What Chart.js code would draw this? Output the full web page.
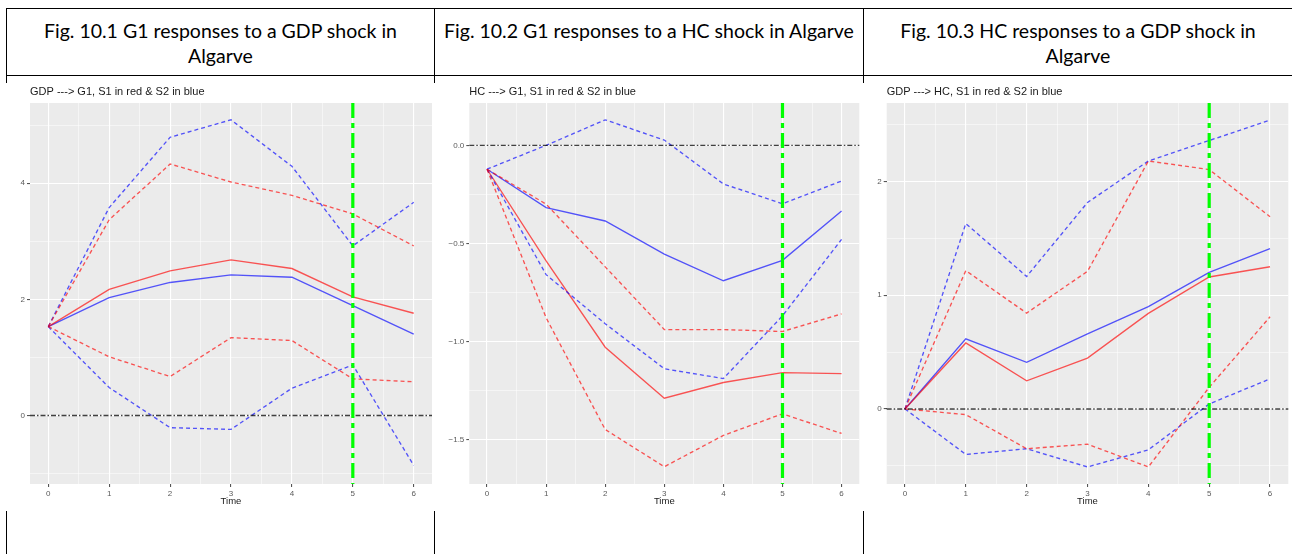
<!DOCTYPE html>
<html>
<head>
<meta charset="utf-8">
<script src="https://cdn.jsdelivr.net/npm/chart.js@4.4.1/dist/chart.umd.min.js"></script>
<style>
    body { margin: 0; background: #fff; }
    #page { position: relative; width: 1292px; height: 554px; overflow: hidden; background: #fff; }
    .hl { position: absolute; height: 1px; background: #000; }
    .vl { position: absolute; width: 1px; background: #000; }
    .head {
        position: absolute; top: 9px; height: 66px; text-align: center;
        font-family: Lato, "Open Sans", sans-serif; font-size: 19.5px; line-height: 25px;
        color: #000; padding-top: 9px; box-sizing: border-box; white-space: nowrap;
    }
    canvas { position: absolute; background: #fff; }
</style>
</head>
<body>
<div id="page">
    <div class="hl" style="left:6px; top:8px; width:1286px;"></div>
    <div class="hl" style="left:6px; top:75px; width:1286px;"></div>
    <div class="vl" style="left:6px; top:8px; height:546px;"></div>
    <div class="vl" style="left:434px; top:8px; height:546px;"></div>
    <div class="vl" style="left:863px; top:8px; height:546px;"></div>

    <div class="head" style="left:7px; width:427px;">Fig. 10.1 G1 responses to a GDP shock in<br>Algarve</div>
    <div class="head" style="left:435px; width:428px;">Fig. 10.2 G1 responses to a HC shock in Algarve</div>
    <div class="head" style="left:864px; width:428px;">Fig. 10.3 HC responses to a GDP shock in<br>Algarve</div>

    <canvas id="c1" width="432" height="428" style="left:4px; top:83px;"></canvas>
    <canvas id="c2" width="428" height="428" style="left:436px; top:83px;"></canvas>
    <canvas id="c3" width="428" height="428" style="left:864px; top:83px;"></canvas>
</div>

<script>
// horizon (periods after the shock)
const times = [0, 1, 2, 3, 4, 5, 6];
const xMajor = [0, 1, 2, 3, 4, 5, 6];
const xMinor = [0.5, 1.5, 2.5, 3.5, 4.5, 5.5];
const zeroLevel = 0;
const markTime = 5;

// Fig 10.1  GDP -> G1
const gdpG1S1 = [1.53, 2.17, 2.49, 2.68, 2.53, 2.04, 1.76];
const gdpG1S1Lo = [1.53, 1.01, 0.67, 1.34, 1.29, 0.63, 0.58];
const gdpG1S1Hi = [1.53, 3.37, 4.33, 4.02, 3.79, 3.47, 2.92];
const gdpG1S2 = [1.53, 2.03, 2.29, 2.42, 2.38, 1.89, 1.40];
const gdpG1S2Lo = [1.53, 0.48, -0.21, -0.24, 0.47, 0.87, -0.86];
const gdpG1S2Hi = [1.53, 3.58, 4.79, 5.09, 4.29, 2.92, 3.67];
const gdpG1YMajor = [0, 2, 4];
const gdpG1YLabels = ["0", "2", "4"];
const gdpG1YMinor = [-1, 1, 3, 5];

// Fig 10.2  HC -> G1
const hcG1S1 = [-0.122, -0.59, -1.03, -1.29, -1.21, -1.16, -1.165];
const hcG1S1Lo = [-0.122, -0.88, -1.45, -1.64, -1.48, -1.37, -1.47];
const hcG1S1Hi = [-0.122, -0.30, -0.62, -0.94, -0.94, -0.95, -0.86];
const hcG1S2 = [-0.122, -0.318, -0.386, -0.555, -0.691, -0.587, -0.335];
const hcG1S2Lo = [-0.122, -0.66, -0.91, -1.14, -1.19, -0.87, -0.48];
const hcG1S2Hi = [-0.122, 0.0, 0.13, 0.027, -0.197, -0.298, -0.182];
const hcG1YMajor = [-1.5, -1.0, -0.5, 0.0];
const hcG1YLabels = ["\u22121.5", "\u22121.0", "\u22120.5", "0.0"];
const hcG1YMinor = [-1.25, -0.75, -0.25];

// Fig 10.3  GDP -> HC
const gdpHcS1 = [0, 0.58, 0.247, 0.447, 0.84, 1.16, 1.25];
const gdpHcS1Lo = [0, -0.05, -0.35, -0.31, -0.51, 0.19, 0.81];
const gdpHcS1Hi = [0, 1.216, 0.843, 1.21, 2.18, 2.105, 1.69];
const gdpHcS2 = [0, 0.617, 0.41, 0.66, 0.90, 1.20, 1.41];
const gdpHcS2Lo = [0, -0.40, -0.35, -0.51, -0.36, 0.044, 0.264];
const gdpHcS2Hi = [0, 1.63, 1.165, 1.815, 2.18, 2.36, 2.54];
const gdpHcYMajor = [0, 1, 2];
const gdpHcYLabels = ["0", "1", "2"];
const gdpHcYMinor = [-0.5, 0.5, 1.5, 2.5];

const RED = "rgba(255, 0, 0, 0.65)";
const BLUE = "rgba(0, 0, 255, 0.65)";
const plotFont = "'Liberation Sans', Arial, sans-serif";

// grey ggplot panel behind the grid
const panelBg = {
    id: "panelBg",
    beforeDraw(chart) {
        const { ctx, chartArea: a } = chart;
        ctx.save();
        ctx.fillStyle = "#EBEBEB";
        ctx.fillRect(a.left, a.top, a.width, a.height);
        ctx.restore();
    }
};

// zero line (dot-dash) and green marker at t = 5
const refLines = {
    id: "refLines",
    afterDatasetsDraw(chart) {
        const { ctx, chartArea: a, scales } = chart;
        const y0 = scales.y.getPixelForValue(zeroLevel);
        const x5 = scales.x.getPixelForValue(markTime);
        ctx.save();
        ctx.strokeStyle = "rgba(0, 0, 0, 0.75)";
        ctx.lineWidth = 1.4;
        ctx.setLineDash([5, 2, 1.5, 2]);
        ctx.beginPath();
        ctx.moveTo(a.left, y0);
        ctx.lineTo(a.right, y0);
        ctx.stroke();

        ctx.strokeStyle = "#00FF00";
        ctx.lineWidth = 3.2;
        ctx.setLineDash([15, 5, 5, 5]);
        ctx.beginPath();
        ctx.moveTo(x5, a.top);
        ctx.lineTo(x5, a.bottom);
        ctx.stroke();
        ctx.restore();
    }
};

const pts = (arr) => times.map((t, i) => ({ x: t, y: arr[i] }));

const line = (arr, color, dashed) => ({
    data: pts(arr),
    borderColor: color,
    borderWidth: 1.35,
    borderDash: dashed ? [4, 3] : [],
    pointRadius: 0,
    tension: 0,
    fill: false,
});

const isIn = (list, v) => list.some(m => Math.abs(m - v) < 1e-6);

const makeChart = (p) => {
    const yTicks = [...p.yMajor, ...p.yMinor].sort((a, b) => a - b);
    const xTicks = [...xMajor, ...xMinor].sort((a, b) => a - b);
    return new Chart(document.getElementById(p.id), {
        type: "line",
        data: {
            datasets: [
                line(p.s1Hi, RED, true),
                line(p.s1Lo, RED, true),
                line(p.s2Hi, BLUE, true),
                line(p.s2Lo, BLUE, true),
                line(p.s1, RED, false),
                line(p.s2, BLUE, false),
            ]
        },
        options: {
            responsive: false,
            animation: false,
            layout: { padding: { left: 0, right: p.padRight, top: 0, bottom: 0 } },
            plugins: {
                legend: { display: false },
                tooltip: { enabled: false },
                title: {
                    display: true,
                    text: p.title,
                    align: "start",
                    fullSize: false,
                    color: "#1a1a1a",
                    font: { family: plotFont, size: 11, weight: "normal", lineHeight: 1.2 },
                    padding: { top: 2, bottom: 4.8 },
                }
            },
            scales: {
                x: {
                    type: "linear",
                    min: -0.3,
                    max: 6.3,
                    afterBuildTicks: (s) => { s.ticks = xTicks.map(v => ({ value: v })); },
                    afterFit: (s) => { s.height = 27; },
                    border: { display: false },
                    grid: {
                        color: "#FFFFFF",
                        lineWidth: (c) => isIn(xMajor, c.tick.value) ? 1.1 : 0.5,
                        tickLength: 3,
                        tickColor: (c) => isIn(xMajor, c.tick.value) ? "#555" : "rgba(0,0,0,0)",
                    },
                    ticks: {
                        autoSkip: false,
                        maxRotation: 0,
                        padding: 2,
                        color: "#5a5a5a",
                        font: { family: plotFont, size: 8 },
                        callback: (v) => isIn(xMajor, v) ? String(v) : "",
                    },
                    title: {
                        display: true,
                        text: "Time",
                        color: "#1a1a1a",
                        font: { family: plotFont, size: 9.5, lineHeight: 1.2 },
                        padding: { top: 0, bottom: 4 },
                    }
                },
                y: {
                    type: "linear",
                    min: p.yMin,
                    max: p.yMax,
                    afterBuildTicks: (s) => { s.ticks = yTicks.map(v => ({ value: v })); },
                    afterFit: (s) => { s.width = p.yAxisW; },
                    border: { display: false },
                    grid: {
                        color: "#FFFFFF",
                        lineWidth: (c) => isIn(p.yMajor, c.tick.value) ? 1.1 : 0.5,
                        tickLength: 3,
                        tickColor: (c) => isIn(p.yMajor, c.tick.value) ? "#555" : "rgba(0,0,0,0)",
                    },
                    ticks: {
                        autoSkip: false,
                        padding: 2,
                        color: "#5a5a5a",
                        font: { family: plotFont, size: 8 },
                        callback: (v) => {
                            const i = p.yMajor.findIndex(m => Math.abs(m - v) < 1e-6);
                            return i >= 0 ? p.yLabels[i] : "";
                        },
                    }
                }
            }
        },
        plugins: [panelBg, refLines]
    });
};

const panels = [
    {
        id: "c1", title: "GDP ---> G1, S1 in red & S2 in blue",
        s1: gdpG1S1, s1Lo: gdpG1S1Lo, s1Hi: gdpG1S1Hi,
        s2: gdpG1S2, s2Lo: gdpG1S2Lo, s2Hi: gdpG1S2Hi,
        yMajor: gdpG1YMajor, yLabels: gdpG1YLabels, yMinor: gdpG1YMinor,
        yMin: -1.18, yMax: 5.38, yAxisW: 26, padRight: 4,
    },
    {
        id: "c2", title: "HC ---> G1, S1 in red & S2 in blue",
        s1: hcG1S1, s1Lo: hcG1S1Lo, s1Hi: hcG1S1Hi,
        s2: hcG1S2, s2Lo: hcG1S2Lo, s2Hi: hcG1S2Hi,
        yMajor: hcG1YMajor, yLabels: hcG1YLabels, yMinor: hcG1YMinor,
        yMin: -1.728, yMax: 0.216, yAxisW: 33.3, padRight: 4.7,
    },
    {
        id: "c3", title: "GDP ---> HC, S1 in red & S2 in blue",
        s1: gdpHcS1, s1Lo: gdpHcS1Lo, s1Hi: gdpHcS1Hi,
        s2: gdpHcS2, s2Lo: gdpHcS2Lo, s2Hi: gdpHcS2Hi,
        yMajor: gdpHcYMajor, yLabels: gdpHcYLabels, yMinor: gdpHcYMinor,
        yMin: -0.66, yMax: 2.69, yAxisW: 22.7, padRight: 3.7,
    },
];

panels.forEach(makeChart);
</script>
</body>
</html>
